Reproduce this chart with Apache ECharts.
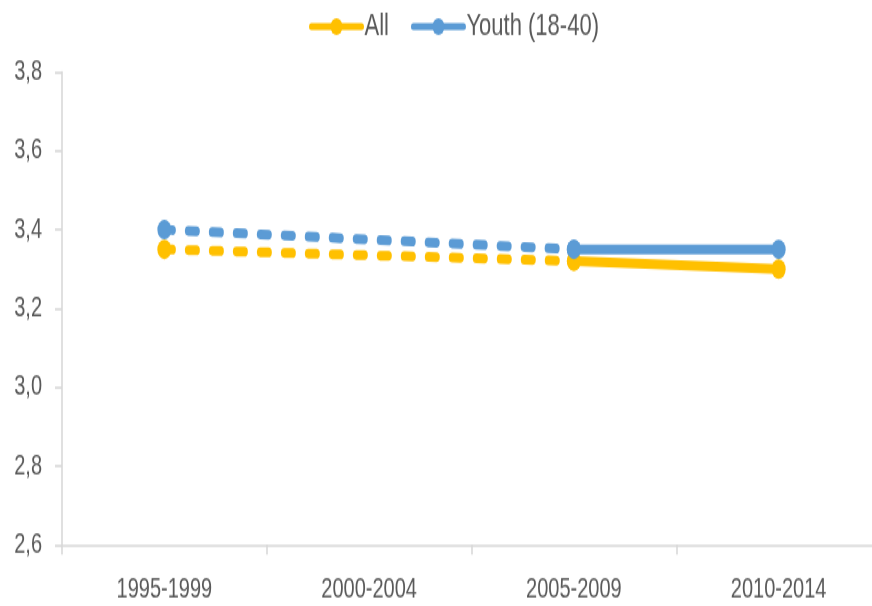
<!DOCTYPE html>
<html>
<head>
<meta charset="utf-8">
<script src="https://cdn.jsdelivr.net/npm/echarts@6/dist/echarts.min.js"></script>
<style>
  html, body { margin: 0; padding: 0; background: #fff; width: 872px; height: 606px; }
  #frame { position: relative; width: 872px; height: 606px; overflow: visible; }
  /* The chart is laid out at 872x433 and stretched vertically to 606px,
     giving the tall, narrow lettering and oval markers of this figure. */
  #chart {
    position: absolute;
    left: 0;
    top: 0;
    width: 872px;
    height: 433px;
    transform: scaleY(1.3995);
    transform-origin: 0 0;
  }
</style>
</head>
<body>
<div id="frame"><div id="chart"></div></div>
<script>
// Periods on the horizontal axis
const periods = ['1995-1999', '2000-2004', '2005-2009', '2010-2014'];

// Mean scores per period (no observation for 2000-2004)
const allValues   = [3.35, null, 3.32, 3.30];
const youthValues = [3.40, null, 3.35, 3.35];

const seriesNames = ['All', 'Youth (18-40)'];
const yTicks = { min: 2.6, max: 3.8, step: 0.2 };

const colors = ['#FFC000', '#5B9BD5'];
const textColor = '#595959';
const axisColor = '#d9d9d9';
const fontFamily = '"Liberation Sans", Arial, sans-serif';

// Early periods are joined by a dashed line, the latest change by a solid one
function dashedPart(values) {
  return values.map((v, i) => (i <= 2 ? v : null));
}
function solidPart(values) {
  return values.map((v, i) => (i >= 2 ? v : null));
}

function lineSeries(name, color, data, dashed) {
  return {
    name: name,
    type: 'line',
    data: data,
    connectNulls: true,
    symbol: 'circle',
    symbolSize: 14,
    itemStyle: { color: color },
    lineStyle: dashed
      ? { color: color, width: 7, type: [8, 16], cap: 'round' }
      : { color: color, width: 7, cap: 'round' },
    emphasis: { disabled: true },
    z: dashed ? 2 : 3
  };
}

const chart = echarts.init(document.getElementById('chart'), null, { renderer: 'canvas' });
chart.setOption({
  animation: false,
  backgroundColor: '#ffffff',
  color: colors,
  legend: {
    top: 3,
    left: 304,
    itemWidth: 50,
    itemHeight: 15,
    itemGap: 22,
    data: seriesNames,
    lineStyle: { width: 5, type: 'solid', cap: 'round' },
    textStyle: { color: textColor, fontSize: 22, fontFamily: fontFamily, padding: [0, 0, 0, -2] }
  },
  grid: {
    left: 62,
    top: 51.5,
    width: 819,
    bottom: 43.7,
    containLabel: false,
    outerBoundsMode: 'none'
  },
  xAxis: {
    type: 'category',
    data: periods,
    boundaryGap: true,
    axisLine: { lineStyle: { color: axisColor, width: 1.6 } },
    axisTick: { show: true, length: 7, lineStyle: { color: axisColor, width: 1.6 } },
    axisLabel: { color: textColor, fontSize: 20, fontFamily: fontFamily, margin: 22 },
    splitLine: { show: false }
  },
  yAxis: {
    type: 'value',
    min: yTicks.min,
    max: yTicks.max,
    interval: yTicks.step,
    axisLine: { show: true, lineStyle: { color: axisColor, width: 1.6 } },
    axisTick: { show: true, length: 7, lineStyle: { color: axisColor, width: 1.6 } },
    axisLabel: {
      color: textColor,
      fontSize: 20,
      fontFamily: fontFamily,
      margin: 20,
      formatter: v => v.toFixed(1).replace('.', ',')
    },
    splitLine: { show: false }
  },
  series: [
    lineSeries(seriesNames[0], colors[0], solidPart(allValues), false),
    lineSeries(seriesNames[1], colors[1], solidPart(youthValues), false),
    lineSeries(seriesNames[0], colors[0], dashedPart(allValues), true),
    lineSeries(seriesNames[1], colors[1], dashedPart(youthValues), true)
  ]
});
</script>
</body>
</html>
